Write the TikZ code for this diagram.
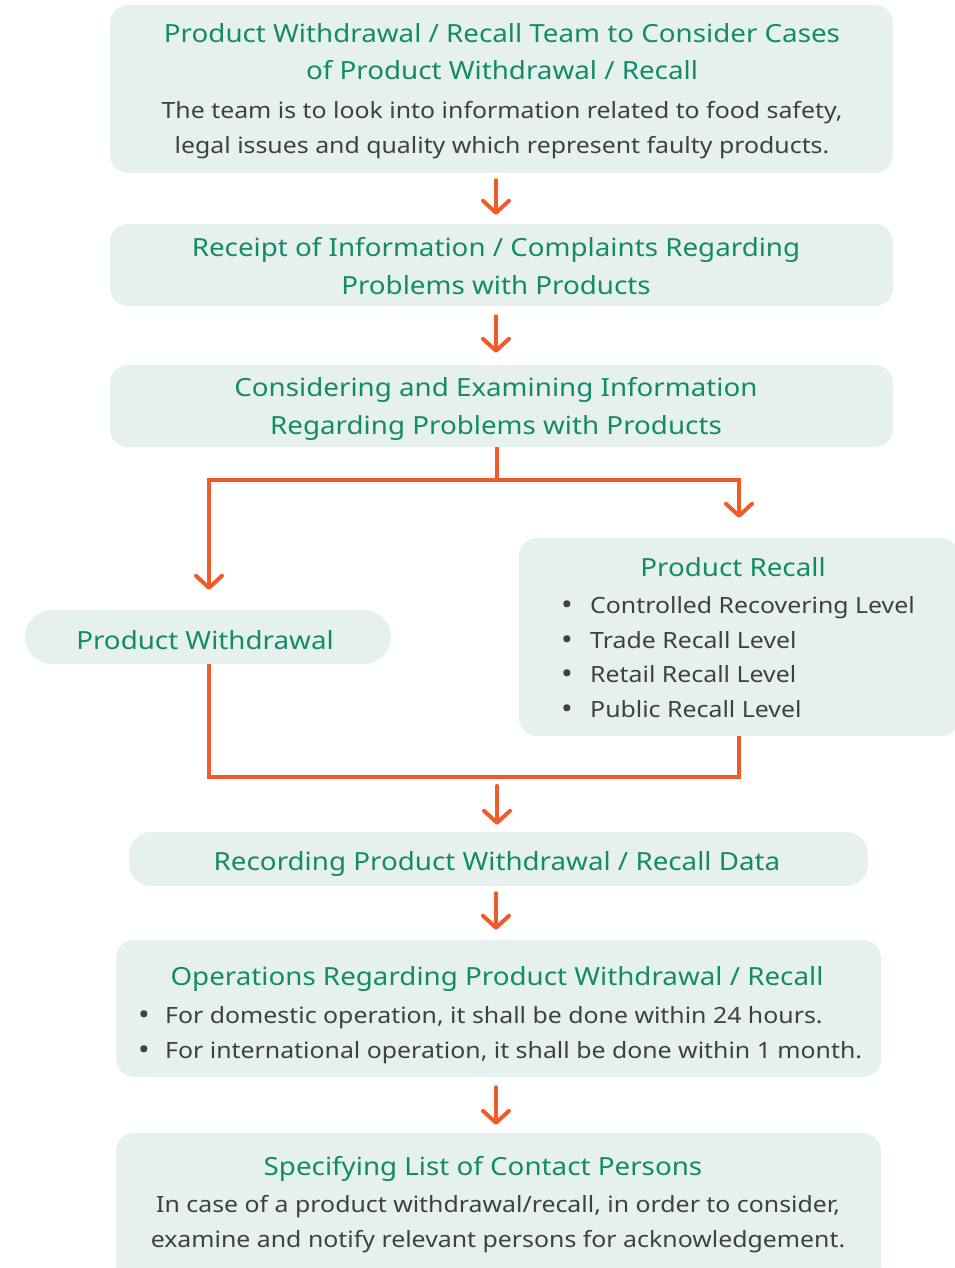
\documentclass[tikz,border=0pt]{standalone}
\usepackage{fontspec}
\setmainfont{Noto Sans}[FakeStretch=1.11]
\usetikzlibrary{arrows.meta}
\definecolor{boxfill}{HTML}{E6F1EF}
\definecolor{titlegreen}{HTML}{138A68}
\definecolor{bodygray}{HTML}{404040}
\definecolor{arrorange}{HTML}{F15A29}
\begin{document}
\begin{tikzpicture}[x=1pt,y=-1pt,
  box/.style={fill=boxfill, draw=none, rounded corners=18pt, inner sep=0pt},
  ttl/.style={text=titlegreen, font=\fontsize{25}{37.5}\selectfont, align=center, inner sep=0pt},
  bod/.style={text=bodygray, font=\fontsize{22.4}{35}\selectfont, align=center, inner sep=0pt},
  lst/.style={text=bodygray, font=\fontsize{22.4}{34.7}\selectfont, align=left, inner sep=0pt, anchor=west},
  link/.style={draw=arrorange, line width=4pt},
  arr/.style={draw=arrorange, line width=4pt, line cap=round, line join=round,
    -{Straight Barb[length=12pt,width=26pt,line width=4pt,round]}}
]
\useasboundingbox (0,0) rectangle (954,1268);

% boxes
\node[box, minimum width=783pt, minimum height=168pt] (b1) at (501.5,89) {};
\node[box, minimum width=783pt, minimum height=82pt] (b2) at (501.5,265) {};
\node[box, minimum width=783pt, minimum height=82pt] (b3) at (501.5,406) {};
\node[box, minimum width=440pt, minimum height=198pt] (rc) at (739,637) {};
\node[box, minimum width=366pt, minimum height=54pt, rounded corners=27pt] (wd) at (208,637) {};
\node[box, minimum width=739pt, minimum height=54pt, rounded corners=22pt] (rec) at (498.5,859) {};
\node[box, minimum width=765pt, minimum height=137pt] (ops) at (498.5,1008.5) {};
\node[box, minimum width=765pt, minimum height=152pt] (ct) at (498.5,1209) {};

% texts
\node[ttl] (t1) at (502,51.5) {Product Withdrawal / Recall Team to Consider Cases\\of Product Withdrawal / Recall};
\node[bod] (d1) at (502,130) {The team is to look into information related to food safety,\\legal issues and quality which represent faulty products.};
\node[ttl] (t2) at (496,266) {Receipt of Information / Complaints Regarding\\Problems with Products};
\node[ttl] (t3) at (496,409) {Considering and Examining Information\\Regarding Problems with Products};
\node[ttl] (t4) at (733,567) {Product Recall};
\node[lst] (l4) at (561,657.5) {\makebox[29pt][l]{\raisebox{-1pt}{\fontsize{28}{30}\selectfont •}}Controlled Recovering Level\\\makebox[29pt][l]{\raisebox{-1pt}{\fontsize{28}{30}\selectfont •}}Trade Recall Level\\\makebox[29pt][l]{\raisebox{-1pt}{\fontsize{28}{30}\selectfont •}}Retail Recall Level\\\makebox[29pt][l]{\raisebox{-1pt}{\fontsize{28}{30}\selectfont •}}Public Recall Level};
\node[ttl] (t5) at (205,640) {Product Withdrawal};
\node[ttl] (t6) at (497,864) {Recording Product Withdrawal / Recall Data};
\node[ttl] (t7) at (497,978.5) {Operations Regarding Product Withdrawal / Recall};
\node[lst] (l7) at (138,1035) {\makebox[27pt][l]{\raisebox{-1pt}{\fontsize{28}{30}\selectfont •}}For domestic operation, it shall be done within 24 hours.\\\makebox[27pt][l]{\raisebox{-1pt}{\fontsize{28}{30}\selectfont •}}For international operation, it shall be done within 1 month.};
\node[ttl] (t8) at (483,1168.5) {Specifying List of Contact Persons};
\node[bod] (d8) at (498,1224) {In case of a product withdrawal/recall, in order to consider,\\examine and notify relevant persons for acknowledgement.};

% connectors
\coordinate (split) at (497,480);
\coordinate (merge) at (497,777);
\draw[arr, shorten <=7pt, shorten >=9pt] ([xshift=-5.5pt]b1.south) -- ([xshift=-5.5pt]b2.north);
\draw[arr, shorten <=10pt, shorten >=12pt] ([xshift=-5.5pt]b2.south) -- ([xshift=-5.5pt]b3.north);
\draw[link] (b3.south -| split) -- (split);
\draw[arr, line cap=butt, line join=miter, shorten >=20pt] (split) -| ([xshift=1pt]wd.north);
\draw[arr, line cap=butt, line join=miter, shorten >=20pt] (split) -| (rc.north);
\draw[link] ([xshift=1pt]wd.south) |- (merge) -| (rc.south);
\draw[arr, shorten <=9pt, shorten >=7pt] (merge) -- (rec.north -| merge);
\draw[arr, shorten <=7pt, shorten >=10pt] ([xshift=-2.5pt]rec.south) -- ([xshift=-2.5pt]ops.north);
\draw[arr, shorten <=10pt, shorten >=8pt] ([xshift=-2.5pt]ops.south) -- ([xshift=-2.5pt]ct.north);
\end{tikzpicture}
\end{document}
